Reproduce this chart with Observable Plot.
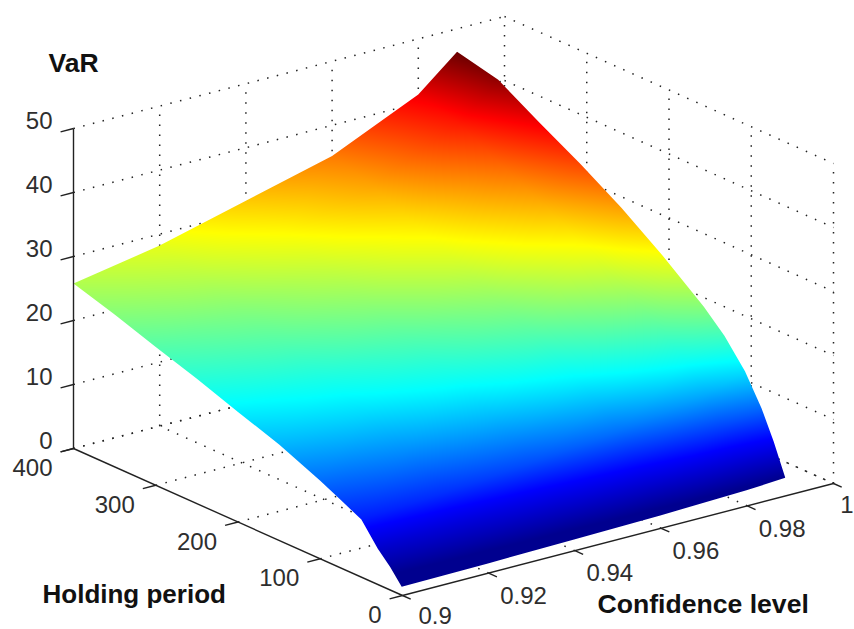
<!DOCTYPE html>
<html>
<head>
<meta charset="utf-8">
<script src="https://cdn.jsdelivr.net/npm/d3@7"></script>
<script src="https://cdn.jsdelivr.net/npm/@observablehq/plot@0.6"></script>
<style>html,body{margin:0;padding:0;background:#fff;overflow:hidden}svg{display:block;overflow:visible}</style>
</head>
<body>
<div id="chart"></div>
<script>
// Surface grid
const holdingPeriods = [1, 15, 30, 50, 75, 100, 150, 200, 250, 300, 350, 400];
const confidenceLevels = [0.9, 0.92, 0.94, 0.96, 0.98, 0.989];
const var90  = [1.3, 3.6, 5.6, 9.0, 10.6, 12.2, 15.0, 17.2, 19.5, 21.6, 23.8, 25.8];
const var92  = [1.46, 4.04, 6.3, 9.8, 11.7, 13.5, 16.5, 19.0, 21.5, 23.7, 26.1, 28.2];
const var94  = [1.68, 4.64, 7.3, 11.0, 13.2, 15.2, 18.6, 21.4, 24.2, 26.7, 29.3, 31.7];
const var96  = [1.95, 5.4, 8.5, 12.4, 15.1, 17.4, 21.3, 24.5, 27.6, 30.4, 33.3, 35.2];
const var98  = [2.39, 6.6, 10.4, 14.7, 18.2, 20.9, 25.4, 29.4, 33.0, 36.2, 39.6, 41.3];
const var989 = [2.75, 7.6, 12.0, 16.6, 20.7, 23.8, 28.9, 33.5, 37.5, 41.1, 44.9, 46.4];
const surfaceRows = [var90, var92, var94, var96, var98, var989];

// Axes
const varTicks = [0, 10, 20, 30, 40, 50];
const holdTicks = [0, 100, 200, 300, 400];
const confTicks = [0.9, 0.92, 0.94, 0.96, 0.98, 1];

// Jet colormap
const jetValues = [1.3, 2.8, 8, 17.8, 29.3, 40.7, 46.4];
const jetColors = ["#00008f", "#00008f", "#0000ff", "#00ffff", "#ffff00", "#ff0000", "#6a0000"];

// Orthographic view of the MATLAB box
const px = (c, h) => 402 + (c - 0.9) * 4310 - h * 0.8225;
const py = (c, h, v) => 595 - (c - 0.9) * 1120 - h * 0.3675 - v * 6.4;
const P = (c, h, v) => ({x: px(c, h), y: py(c, h, v), c, h, v});

const samples = [];
confidenceLevels.forEach((c, i) => holdingPeriods.forEach((h, j) => samples.push(P(c, h, surfaceRows[i][j]))));

// Surface outline
const n = holdingPeriods.length - 1;
const outline = [
  ...holdingPeriods.map((h, j) => P(0.9, h, var90[j])),
  ...confidenceLevels.map((c, i) => P(c, 400, surfaceRows[i][n])),
  ...holdingPeriods.map((h, j) => P(0.989, h, var989[j])).reverse(),
  ...confidenceLevels.map((c, i) => P(c, 1, surfaceRows[i][0])).reverse()
];

// Dotted grid segments
const grid = [];
const seg = (a, b) => grid.push({x1: a.x, y1: a.y, x2: b.x, y2: b.y});
varTicks.forEach(v => {
  seg(P(0.9, 400, v), P(1, 400, v));
  seg(P(1, 400, v), P(1, 0, v));
});
confTicks.slice(1).forEach(c => {
  seg(P(c, 400, 0), P(c, 400, 50));
  seg(P(c, 0, 0), P(c, 400, 0));
});
holdTicks.forEach(h => {
  if (h < 400) seg(P(1, h, 0), P(1, h, 50));
  if (h > 0) seg(P(0.9, h, 0), P(1, h, 0));
});

const axisLines = [
  {a: P(0.9, 400, 0), b: P(0.9, 400, 50)},
  {a: P(0.9, 400, 0), b: P(0.9, 0, 0)},
  {a: P(0.9, 0, 0), b: P(1, 0, 0)},
  ...varTicks.map(v => ({a: P(0.9, 400, v), b: P(0.897, 400, v)})),
  ...holdTicks.map(h => ({a: P(0.9, h, 0), b: P(0.897, h, 0)})),
  ...confTicks.map(c => ({a: P(c, 0, 0), b: P(c, -10, 0)}))
];

const font = "Liberation Sans, Arial, sans-serif";
const tick = {fontFamily: font, fontSize: 24, fill: "#2e2e2e", stroke: "none"};
const title = {fontFamily: font, fontWeight: "bold", fill: "#111", stroke: "none", textAnchor: "start"};
const confX = c => px(c, 0), confY = c => py(c, 0, 0), confText = c => String(c);

const chart = Plot.plot({
  width: 854, height: 629, margin: 0,
  style: {background: "#fff"},
  x: {domain: [0, 854], range: [0, 854], axis: null},
  y: {domain: [0, 629], range: [0, 629], axis: null},
  color: {type: "linear", domain: jetValues, range: jetColors},
  marks: [
    Plot.link(grid, {x1: "x1", y1: "y1", x2: "x2", y2: "y2", stroke: "#222", strokeWidth: 1.5, strokeDasharray: "1.5 8.5"}),
    Plot.raster(samples, {x: "x", y: "y", fill: "v", interpolate: "barycentric", pixelSize: 1}),
    Plot.link(axisLines, {x1: d => d.a.x, y1: d => d.a.y, x2: d => d.b.x, y2: d => d.b.y, stroke: "#222", strokeWidth: 1.4}),
    Plot.text(varTicks, {x: () => px(0.9, 400), y: v => py(0.9, 400, v), text: v => String(v), textAnchor: "end", dx: -21, dy: -7, ...tick}),
    Plot.text(holdTicks, {x: h => px(0.9, h), y: h => py(0.9, h, 0), text: h => String(h), textAnchor: "end", dx: -21, dy: 20, ...tick}),
    Plot.text(confTicks.slice(0, 1), {x: confX, y: confY, text: confText, textAnchor: "start", dx: 16, dy: 21, ...tick}),
    Plot.text(confTicks.slice(1, 5), {x: confX, y: confY, text: confText, textAnchor: "start", dx: 11.5, dy: 23, ...tick}),
    Plot.text(confTicks.slice(5), {x: confX, y: confY, text: confText, textAnchor: "end", dx: 20, dy: 22, ...tick}),
    Plot.text(["VaR"], {x: () => 48, y: () => 63, text: d => d, fontSize: 26.5, ...title}),
    Plot.text(["Holding period"], {x: () => 42, y: () => 594, text: d => d, fontSize: 26, ...title}),
    Plot.text(["Confidence level"], {x: () => 597, y: () => 604, text: d => d, fontSize: 26.6, ...title})
  ]
});

// Clip the interpolated raster to the surface outline
const ns = "http://www.w3.org/2000/svg";
const clip = document.createElementNS(ns, "clipPath");
clip.setAttribute("id", "surface-clip");
clip.setAttribute("clipPathUnits", "userSpaceOnUse");
const poly = document.createElementNS(ns, "path");
poly.setAttribute("d", d3.line().x(d => d.x).y(d => d.y)(outline) + "Z");
clip.appendChild(poly);
const root = chart.tagName.toLowerCase() === "svg" ? chart : chart.querySelector("svg");
root.insertBefore(clip, root.firstChild);
root.querySelector("image").setAttribute("clip-path", "url(#surface-clip)");
document.getElementById("chart").appendChild(chart);
</script>
</body>
</html>
